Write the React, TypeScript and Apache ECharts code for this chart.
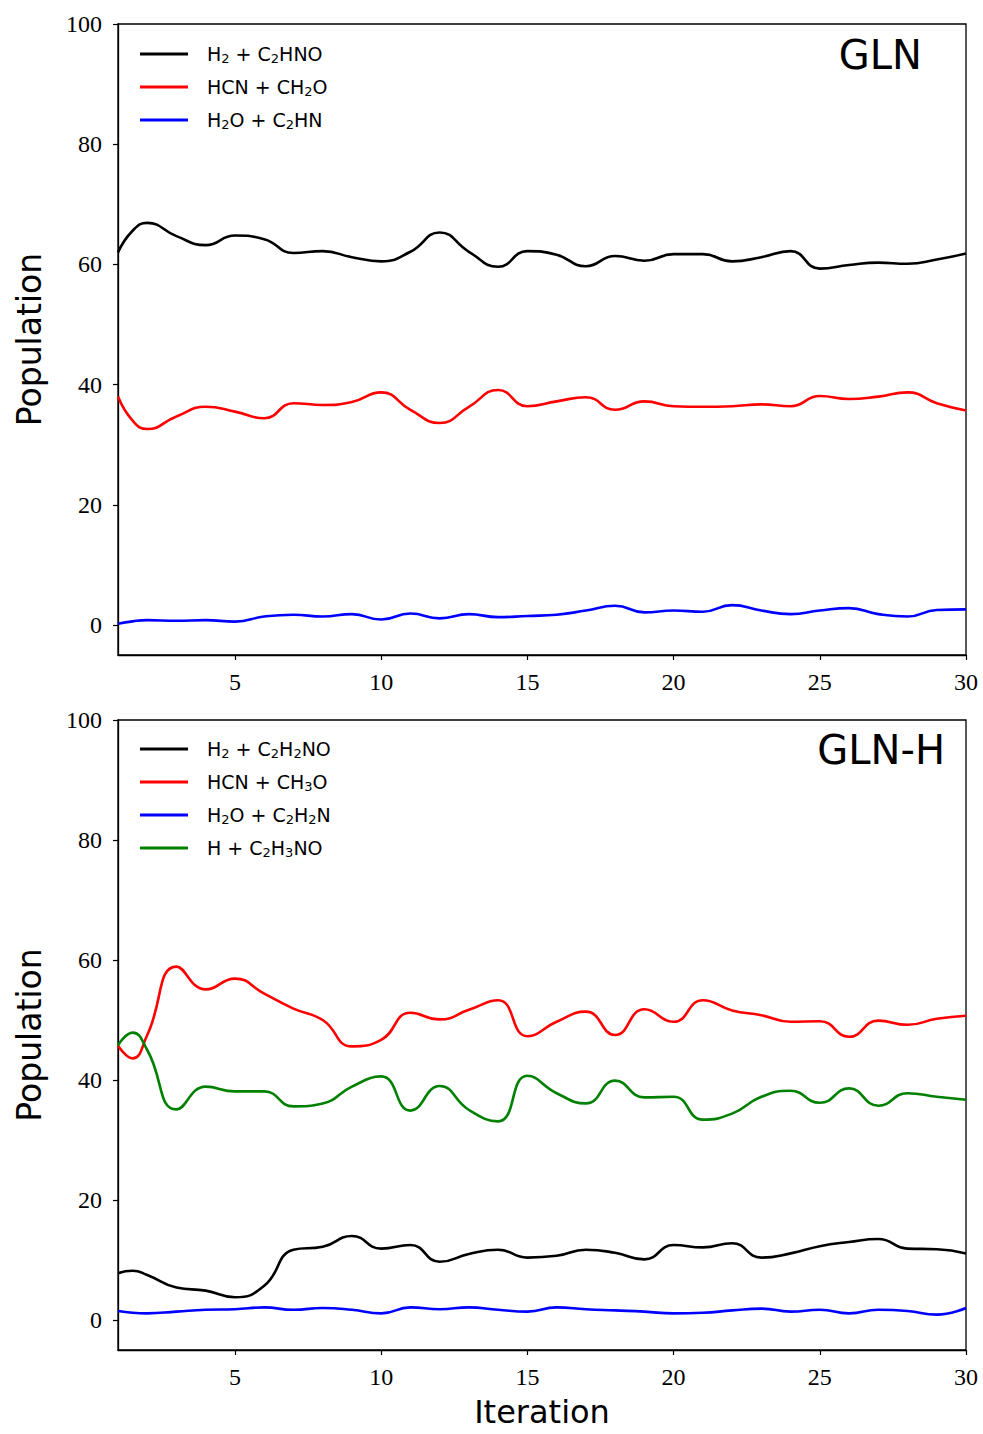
import React, { useEffect, useRef } from 'react';
import * as echarts from 'echarts';

// ---- Top panel (GLN) ----
const topIterations = [1, 1.5, 2, 3, 4, 5, 6, 7, 8, 9, 10, 11, 12, 13, 14, 15, 16, 17, 18, 19, 20, 21, 22, 23, 24, 25, 26, 27, 28, 29, 30];
const glnH2 = [62.0, 65.6, 66.9, 64.7, 63.2, 64.8, 64.2, 61.9, 62.2, 61.2, 60.5, 62.1, 65.3, 62.1, 59.6, 62.2, 61.6, 59.7, 61.4, 60.6, 61.7, 61.7, 60.5, 61.2, 62.2, 59.3, 59.9, 60.3, 60.1, 60.8, 61.8];
const glnHCN = [38.0, 34.0, 32.6, 34.7, 36.3, 35.5, 34.4, 36.9, 36.6, 37.1, 38.7, 35.8, 33.6, 36.3, 39.1, 36.4, 37.2, 37.9, 35.8, 37.2, 36.4, 36.3, 36.4, 36.7, 36.4, 38.1, 37.6, 38.0, 38.7, 36.9, 35.7];
const glnH2O = [0.2, 0.6, 0.8, 0.7, 0.8, 0.55, 1.4, 1.7, 1.4, 1.8, 0.9, 1.9, 1.1, 1.8, 1.3, 1.5, 1.7, 2.4, 3.2, 2.1, 2.4, 2.2, 3.3, 2.4, 1.8, 2.4, 2.8, 1.8, 1.4, 2.5, 2.6];

// ---- Bottom panel (GLN-H) ----
const bottomIterations = [1, 1.5, 2, 3, 4, 5, 6, 7, 8, 9, 10, 11, 12, 13, 14, 15, 16, 17, 18, 19, 20, 21, 22, 23, 24, 25, 26, 27, 28, 29, 30];
const glnhH2 = [7.8, 8.2, 7.5, 5.4, 4.9, 3.8, 5.7, 11.7, 12.2, 14.0, 11.9, 12.5, 9.7, 11.0, 11.7, 10.4, 10.7, 11.7, 11.2, 10.1, 12.5, 12.1, 12.8, 10.4, 11.1, 12.3, 13.0, 13.5, 11.9, 11.8, 11.1];
const glnhHCN = [45.7, 43.6, 47.5, 58.9, 55.1, 56.9, 54.4, 51.9, 50.0, 45.6, 46.7, 51.2, 50.1, 51.7, 53.3, 47.3, 49.7, 51.4, 47.5, 51.8, 49.7, 53.3, 51.6, 50.8, 49.7, 49.8, 47.2, 49.9, 49.2, 50.2, 50.7];
const glnhH2O = [1.5, 1.2, 1.1, 1.4, 1.7, 1.8, 2.1, 1.7, 2.0, 1.7, 1.1, 2.1, 1.8, 2.1, 1.7, 1.4, 2.1, 1.8, 1.6, 1.4, 1.1, 1.2, 1.6, 1.9, 1.4, 1.7, 1.1, 1.7, 1.5, 0.9, 2.0];
const glnhH = [45.8, 47.9, 45.0, 35.1, 38.9, 38.1, 38.1, 35.6, 36.1, 38.9, 40.6, 34.9, 39.0, 35.0, 33.1, 40.7, 37.8, 36.1, 39.9, 37.1, 37.2, 33.4, 34.4, 37.2, 38.2, 36.2, 38.6, 35.7, 37.8, 37.2, 36.7];

const topNames = ['H2 + C2HNO', 'HCN + CH2O', 'H2O + C2HN'];
const bottomNames = ['H2 + C2H2NO', 'HCN + CH3O', 'H2O + C2H2N', 'H + C2H3NO'];
const xTickValues = [5, 10, 15, 20, 25, 30];
const yTickValues = [0, 20, 40, 60, 80, 100];

const SANS = 'DejaVu Sans';
const SERIF = 'Liberation Serif';

function pairs(xs: number[], ys: number[]) {
  return xs.map((x, i) => [x, ys[i]]);
}

function lineSeries(name: string, color: string, xs: number[], ys: number[], idx: number) {
  return {
    type: 'line',
    name,
    xAxisIndex: idx,
    yAxisIndex: idx,
    data: pairs(xs, ys),
    smooth: 0.5,
    symbol: 'none',
    showSymbol: false,
    lineStyle: { color, width: 2.6 },
    itemStyle: { color },
    clip: true,
  };
}

function makeX(idx: number, withName: boolean) {
  return {
    type: 'value',
    gridIndex: idx,
    min: 1,
    max: 30,
    name: withName ? 'Iteration' : '',
    nameLocation: 'middle',
    nameGap: 46,
    nameTextStyle: { fontFamily: SANS, fontSize: 32, color: '#000' },
    axisLine: { show: true, onZero: false, lineStyle: { color: '#000', width: 1.3 } },
    axisTick: { show: true, length: 5, customValues: xTickValues, lineStyle: { color: '#000', width: 1.2 } },
    axisLabel: { customValues: xTickValues, margin: 15, fontFamily: SERIF, fontSize: 24, color: '#000' },
    splitLine: { show: false },
  };
}

function makeY(idx: number) {
  return {
    type: 'value',
    gridIndex: idx,
    min: -5,
    max: 100,
    name: 'Population',
    nameLocation: 'middle',
    nameGap: 72,
    nameTextStyle: { fontFamily: SANS, fontSize: 33, color: '#000' },
    axisLine: { show: true, onZero: false, lineStyle: { color: '#000', width: 1.3 } },
    axisTick: { show: true, length: 5, customValues: yTickValues, lineStyle: { color: '#000', width: 1.2 } },
    axisLabel: { customValues: yTickValues, margin: 16, fontFamily: SERIF, fontSize: 24, color: '#000' },
    splitLine: { show: false },
  };
}

function legendFor(names: string[], top: number) {
  return {
    data: names,
    orient: 'vertical',
    left: 140,
    top,
    padding: 0,
    icon: 'rect',
    itemWidth: 48,
    itemHeight: 3,
    itemGap: 11,
    formatter: (name: string) => name.replace(/(\d)/g, '{sub|$1}'),
    textStyle: {
      fontFamily: SANS,
      fontSize: 19,
      lineHeight: 22,
      color: '#000',
      padding: [0, 0, 0, 14],
      rich: {
        sub: { fontFamily: SANS, fontSize: 13, lineHeight: 12, verticalAlign: 'bottom', color: '#000' },
      },
    },
  };
}

export default function App() {
  const ref = useRef<HTMLDivElement>(null);
  useEffect(() => {
    if (!ref.current) return;
    const chart = echarts.init(ref.current, undefined, { renderer: 'svg' });
    chart.setOption({
      animation: false,
      backgroundColor: '#fff',
      title: [
        { text: 'GLN', right: 61, top: 35, padding: 0, textStyle: { fontFamily: SANS, fontSize: 40, fontWeight: 'normal', color: '#000' } },
        { text: 'GLN-H', right: 38, top: 730, padding: 0, textStyle: { fontFamily: SANS, fontSize: 40, fontWeight: 'normal', color: '#000' } },
      ],
      grid: [
        { left: 118, top: 24, width: 848, height: 631, show: true, borderColor: '#000', borderWidth: 1.3, backgroundColor: 'transparent' },
        { left: 118, top: 720, width: 848, height: 630, show: true, borderColor: '#000', borderWidth: 1.3, backgroundColor: 'transparent' },
      ],
      xAxis: [makeX(0, false), makeX(1, true)],
      yAxis: [makeY(0), makeY(1)],
      legend: [legendFor(topNames, 43), legendFor(bottomNames, 738)],
      series: [
        lineSeries(topNames[0], '#000000', topIterations, glnH2, 0),
        lineSeries(topNames[1], '#ff0000', topIterations, glnHCN, 0),
        lineSeries(topNames[2], '#0000ff', topIterations, glnH2O, 0),
        lineSeries(bottomNames[0], '#000000', bottomIterations, glnhH2, 1),
        lineSeries(bottomNames[1], '#ff0000', bottomIterations, glnhHCN, 1),
        lineSeries(bottomNames[2], '#0000ff', bottomIterations, glnhH2O, 1),
        lineSeries(bottomNames[3], '#008000', bottomIterations, glnhH, 1),
      ],
    });
    return () => chart.dispose();
  }, []);
  return <div ref={ref} style={{ position: 'absolute', left: 0, top: 0, width: 983, height: 1434 }} />;
}
